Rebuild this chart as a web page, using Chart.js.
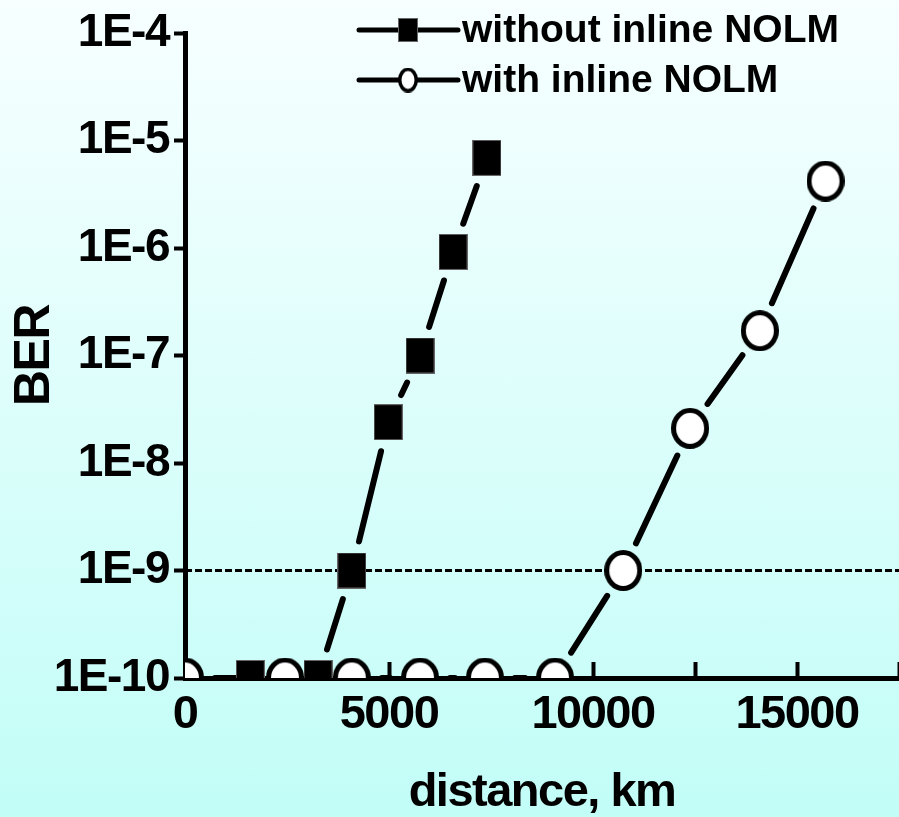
<!DOCTYPE html>
<html>
<head>
<meta charset="utf-8">
<script src="https://cdn.jsdelivr.net/npm/chart.js@4"></script>
<style>
  html, body { margin: 0; padding: 0; overflow: hidden; }
  body { background: linear-gradient(#f7ffff, #c2fdf7); }
  #wrap { width: 899px; height: 817px; position: relative; }
</style>
</head>
<body>
<div id="wrap"><canvas id="chart"></canvas></div>
<script>
// BER vs distance
const distWithout = [1600, 3260, 4090, 4980, 5760, 6570, 7400];
const berWithout  = [1e-10, 1e-10, 1e-9, 2.4e-8, 1.0e-7, 9.2e-7, 6.9e-6];

const distWith = [0, 2450, 4090, 5760, 7350, 9070, 10740, 12380, 14090, 15700];
const berWith  = [1e-10, 1e-10, 1e-10, 1e-10, 1e-10, 1e-10, 1e-9, 2.1e-8, 1.7e-7, 4.2e-6];

const berLimit = 1e-9;
const berExponents = [-10, -9, -8, -7, -6, -5, -4];
const distRange = [0, 17500];

const seriesNames = ['without inline NOLM', 'with inline NOLM'];

const FONT = "'Liberation Sans', Arial, sans-serif";

function squareMarker(w, h) {
  const c = document.createElement('canvas');
  c.width = w; c.height = h;
  const g = c.getContext('2d');
  g.fillStyle = '#000';
  g.fillRect(0, 0, w, h);
  g.strokeStyle = '#666';
  g.lineWidth = 1;
  g.strokeRect(0.5, 0.5, w - 1, h - 1);
  return c;
}

function circleMarker(w, h, lw) {
  const c = document.createElement('canvas');
  c.width = w; c.height = h;
  const g = c.getContext('2d');
  g.beginPath();
  g.ellipse(w / 2, h / 2, w / 2 - lw / 2, h / 2 - lw / 2, 0, 0, Math.PI * 2);
  g.fillStyle = '#fff';
  g.fill();
  g.lineWidth = lw;
  g.strokeStyle = '#000';
  g.stroke();
  return c;
}

const squareImg = squareMarker(29, 36);
const circleImg = circleMarker(38, 41, 5);
const legendSquare = squareMarker(20, 24);
const legendCircle = circleMarker(20, 25, 3.5);

const GAP = 30;

// tighter lettering, like the condensed bold of the original
const tightText = {
  id: 'tightText',
  beforeDraw(chart) { chart.ctx.letterSpacing = '-1.5px'; }
};

// connecting lines stop short of each marker, as in the original plot
const gapLines = {
  id: 'gapLines',
  beforeDatasetsDraw(chart) {
    const { ctx, chartArea } = chart;
    ctx.save();
    ctx.beginPath();
    ctx.rect(chartArea.left, chartArea.top, chartArea.width, chartArea.height);
    ctx.clip();
    ctx.strokeStyle = '#000';
    ctx.lineWidth = 6;
    ctx.lineCap = 'round';
    [0, 1].forEach(i => {
      const pts = chart.getDatasetMeta(i).data;
      for (let k = 1; k < pts.length; k++) {
        const a = pts[k - 1], b = pts[k];
        const dx = b.x - a.x, dy = b.y - a.y;
        const len = Math.hypot(dx, dy);
        if (len <= 2 * GAP) continue;
        const ux = dx / len, uy = dy / len;
        ctx.beginPath();
        ctx.moveTo(a.x + ux * GAP, a.y + uy * GAP);
        ctx.lineTo(b.x - ux * GAP, b.y - uy * GAP);
        ctx.stroke();
      }
    });
    ctx.restore();
  }
};

const lineLegend = {
  id: 'lineLegend',
  afterDraw(chart) {
    const ctx = chart.ctx;
    const rows = [
      { y: 30, img: legendSquare, text: seriesNames[0] },
      { y: 80, img: legendCircle, text: seriesNames[1] }
    ];
    ctx.save();
    ctx.letterSpacing = '0px';
    rows.forEach(r => {
      ctx.strokeStyle = '#000';
      ctx.lineWidth = 5;
      ctx.lineCap = 'round';
      ctx.beginPath();
      ctx.moveTo(359, r.y);
      ctx.lineTo(458, r.y);
      ctx.stroke();
      ctx.drawImage(r.img, 408 - r.img.width / 2, r.y - r.img.height / 2);
      ctx.fillStyle = '#000';
      ctx.font = "bold 39px " + FONT;
      ctx.textAlign = 'left';
      ctx.textBaseline = 'middle';
      ctx.fillText(r.text, 462, r.y + 1);
    });
    ctx.restore();
  }
};

new Chart(document.getElementById('chart'), {
  type: 'line',
  data: {
    datasets: [
      {
        label: seriesNames[0],
        data: distWithout.map((d, i) => ({ x: d, y: berWithout[i] })),
        showLine: false,
        pointStyle: squareImg,
        pointRadius: 18,
        clip: 0,
        order: 1
      },
      {
        label: seriesNames[1],
        data: distWith.map((d, i) => ({ x: d, y: berWith[i] })),
        showLine: false,
        pointStyle: circleImg,
        pointRadius: 19,
        clip: 0,
        order: 2
      },
      {
        label: 'limit',
        data: distRange.map(d => ({ x: d, y: berLimit })),
        borderColor: '#000',
        borderWidth: 3,
        borderDash: [7, 3],
        pointRadius: 0,
        clip: 0,
        order: 3
      }
    ]
  },
  options: {
    responsive: true,
    maintainAspectRatio: false,
    animation: false,
    events: [],
    layout: { autoPadding: false, padding: { top: 33, right: 0, left: 0, bottom: 0 } },
    plugins: {
      legend: { display: false },
      tooltip: { enabled: false }
    },
    scales: {
      x: {
        type: 'linear',
        min: distRange[0],
        max: distRange[1],
        border: { color: '#000', width: 5 },
        grid: { drawOnChartArea: false, color: '#000', tickLength: -16, tickWidth: 4 },
        ticks: {
          stepSize: 2500,
          autoSkip: false,
          maxRotation: 0,
          padding: 30,
          color: '#000',
          font: { family: FONT, size: 47, weight: 'bold', lineHeight: 1 },
          callback: v => (v % 5000 === 0 ? String(v) : '')
        },
        title: {
          display: true,
          text: 'distance, km',
          color: '#000',
          padding: { top: 0, bottom: 0 },
          font: { family: FONT, size: 47, weight: 'bold', lineHeight: 1 }
        },
        afterFit(s) {
          s.height = 817 - 678;
          s.paddingLeft = 0;
          s.paddingRight = 0;
        }
      },
      y: {
        type: 'logarithmic',
        min: Math.pow(10, berExponents[0]),
        max: Math.pow(10, berExponents[berExponents.length - 1]),
        border: { color: '#000', width: 5 },
        grid: { drawOnChartArea: false, color: '#000', tickLength: 11, tickWidth: 4 },
        afterBuildTicks(s) {
          s.ticks = berExponents.map(e => ({ value: Math.pow(10, e) }));
        },
        ticks: {
          padding: 5,
          color: '#000',
          font: { family: FONT, size: 46, weight: 'bold', lineHeight: 1 },
          callback: v => '1E' + Math.round(Math.log10(v))
        },
        title: {
          display: true,
          text: 'BER',
          color: '#000',
          padding: { top: 10, bottom: 0 },
          font: { family: FONT, size: 50, weight: 'bold', lineHeight: 1 }
        },
        afterFit(s) { s.width = 185; }
      }
    }
  },
  plugins: [tightText, gapLines, lineLegend]
});
</script>
</body>
</html>
